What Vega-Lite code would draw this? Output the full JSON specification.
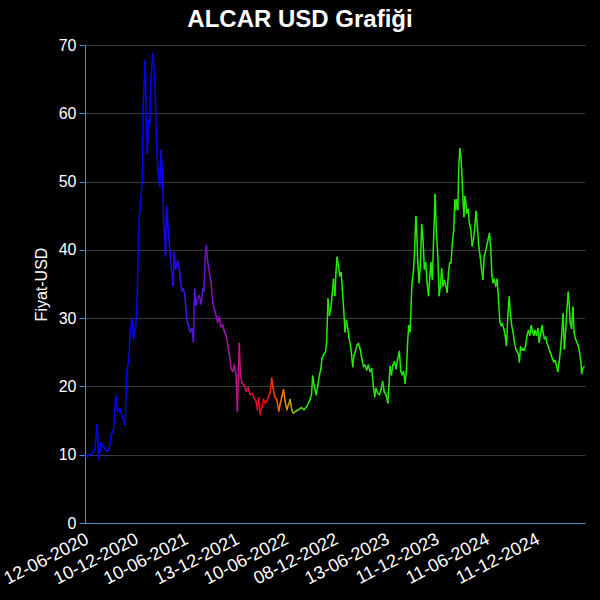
{
  "$schema": "https://vega.github.io/schema/vega-lite/v6.json",
  "description": "ALCAR USD fiyat grafiği",
  "width": 500,
  "height": 478,
  "autosize": {"type": "none"},
  "padding": {"left": 85, "top": 45, "right": 15, "bottom": 77},
  "background": "#000000",
  "title": {
    "text": "ALCAR USD Grafiği",
    "color": "#ffffff",
    "font": "Liberation Sans",
    "fontSize": 24,
    "fontWeight": "bold",
    "anchor": "middle",
    "dx": -35,
    "offset": 5
  },
  "data": {
    "values": [
      {"tarih": "2020-06-12", "fiyat": 9.75},
      {"tarih": "2020-07-06", "fiyat": 10.1},
      {"tarih": "2020-07-18", "fiyat": 10.7},
      {"tarih": "2020-07-26", "fiyat": 14.4},
      {"tarih": "2020-08-02", "fiyat": 9.4},
      {"tarih": "2020-08-09", "fiyat": 11.7},
      {"tarih": "2020-08-18", "fiyat": 11.2},
      {"tarih": "2020-08-30", "fiyat": 10.5},
      {"tarih": "2020-09-07", "fiyat": 10.7},
      {"tarih": "2020-09-17", "fiyat": 13.1},
      {"tarih": "2020-09-24", "fiyat": 13.6},
      {"tarih": "2020-10-02", "fiyat": 18.7},
      {"tarih": "2020-10-09", "fiyat": 16.3},
      {"tarih": "2020-10-16", "fiyat": 16.8},
      {"tarih": "2020-10-26", "fiyat": 15.6},
      {"tarih": "2020-11-05", "fiyat": 14.4},
      {"tarih": "2020-11-11", "fiyat": 22.1},
      {"tarih": "2020-11-19", "fiyat": 24.0},
      {"tarih": "2020-11-24", "fiyat": 28.4},
      {"tarih": "2020-12-01", "fiyat": 29.9},
      {"tarih": "2020-12-06", "fiyat": 27.0},
      {"tarih": "2020-12-14", "fiyat": 28.9},
      {"tarih": "2020-12-18", "fiyat": 31.8},
      {"tarih": "2020-12-23", "fiyat": 40.5},
      {"tarih": "2020-12-27", "fiyat": 44.9},
      {"tarih": "2021-01-02", "fiyat": 47.8},
      {"tarih": "2021-01-07", "fiyat": 50.2},
      {"tarih": "2021-01-10", "fiyat": 60.9},
      {"tarih": "2021-01-17", "fiyat": 67.7},
      {"tarih": "2021-01-21", "fiyat": 58.5},
      {"tarih": "2021-01-25", "fiyat": 54.1},
      {"tarih": "2021-01-29", "fiyat": 59.0},
      {"tarih": "2021-02-03", "fiyat": 58.5},
      {"tarih": "2021-02-07", "fiyat": 64.8},
      {"tarih": "2021-02-13", "fiyat": 68.7},
      {"tarih": "2021-02-18", "fiyat": 66.7},
      {"tarih": "2021-02-23", "fiyat": 63.3},
      {"tarih": "2021-02-28", "fiyat": 54.6},
      {"tarih": "2021-03-05", "fiyat": 51.7},
      {"tarih": "2021-03-11", "fiyat": 49.3},
      {"tarih": "2021-03-16", "fiyat": 54.6},
      {"tarih": "2021-03-21", "fiyat": 51.2},
      {"tarih": "2021-03-26", "fiyat": 43.9},
      {"tarih": "2021-04-01", "fiyat": 39.1},
      {"tarih": "2021-04-05", "fiyat": 46.3},
      {"tarih": "2021-04-12", "fiyat": 42.5},
      {"tarih": "2021-04-18", "fiyat": 39.6},
      {"tarih": "2021-04-24", "fiyat": 36.7},
      {"tarih": "2021-04-29", "fiyat": 34.7},
      {"tarih": "2021-05-03", "fiyat": 39.6},
      {"tarih": "2021-05-08", "fiyat": 37.2},
      {"tarih": "2021-05-16", "fiyat": 38.4},
      {"tarih": "2021-05-23", "fiyat": 36.7},
      {"tarih": "2021-05-30", "fiyat": 34.0},
      {"tarih": "2021-06-05", "fiyat": 34.3},
      {"tarih": "2021-06-11", "fiyat": 33.3},
      {"tarih": "2021-06-17", "fiyat": 29.9},
      {"tarih": "2021-06-23", "fiyat": 29.0},
      {"tarih": "2021-06-29", "fiyat": 28.0},
      {"tarih": "2021-07-06", "fiyat": 28.5},
      {"tarih": "2021-07-12", "fiyat": 26.5},
      {"tarih": "2021-07-16", "fiyat": 34.3},
      {"tarih": "2021-07-21", "fiyat": 31.9},
      {"tarih": "2021-07-26", "fiyat": 32.8},
      {"tarih": "2021-08-02", "fiyat": 33.3},
      {"tarih": "2021-08-09", "fiyat": 32.1},
      {"tarih": "2021-08-15", "fiyat": 34.3},
      {"tarih": "2021-08-19", "fiyat": 34.0},
      {"tarih": "2021-08-24", "fiyat": 39.1},
      {"tarih": "2021-08-28", "fiyat": 40.6},
      {"tarih": "2021-09-02", "fiyat": 38.2},
      {"tarih": "2021-09-08", "fiyat": 36.7},
      {"tarih": "2021-09-14", "fiyat": 35.3},
      {"tarih": "2021-09-20", "fiyat": 32.3},
      {"tarih": "2021-09-26", "fiyat": 31.4},
      {"tarih": "2021-10-02", "fiyat": 30.4},
      {"tarih": "2021-10-08", "fiyat": 29.4},
      {"tarih": "2021-10-14", "fiyat": 30.2},
      {"tarih": "2021-10-20", "fiyat": 28.7},
      {"tarih": "2021-10-27", "fiyat": 29.0},
      {"tarih": "2021-11-02", "fiyat": 28.0},
      {"tarih": "2021-11-08", "fiyat": 27.5},
      {"tarih": "2021-11-14", "fiyat": 26.1},
      {"tarih": "2021-11-20", "fiyat": 24.6},
      {"tarih": "2021-11-26", "fiyat": 22.7},
      {"tarih": "2021-12-02", "fiyat": 22.2},
      {"tarih": "2021-12-08", "fiyat": 23.1},
      {"tarih": "2021-12-14", "fiyat": 21.7},
      {"tarih": "2021-12-19", "fiyat": 16.4},
      {"tarih": "2021-12-23", "fiyat": 22.7},
      {"tarih": "2021-12-26", "fiyat": 26.3},
      {"tarih": "2021-12-30", "fiyat": 21.7},
      {"tarih": "2022-01-05", "fiyat": 20.5},
      {"tarih": "2022-01-12", "fiyat": 20.2},
      {"tarih": "2022-01-20", "fiyat": 19.3},
      {"tarih": "2022-01-27", "fiyat": 19.8},
      {"tarih": "2022-02-03", "fiyat": 18.8},
      {"tarih": "2022-02-10", "fiyat": 19.0},
      {"tarih": "2022-02-18", "fiyat": 18.3},
      {"tarih": "2022-02-25", "fiyat": 17.8},
      {"tarih": "2022-03-02", "fiyat": 16.6},
      {"tarih": "2022-03-07", "fiyat": 18.3},
      {"tarih": "2022-03-12", "fiyat": 15.9},
      {"tarih": "2022-03-18", "fiyat": 16.9},
      {"tarih": "2022-03-24", "fiyat": 18.1},
      {"tarih": "2022-03-30", "fiyat": 17.6},
      {"tarih": "2022-04-05", "fiyat": 17.8},
      {"tarih": "2022-04-11", "fiyat": 18.5},
      {"tarih": "2022-04-17", "fiyat": 19.0},
      {"tarih": "2022-04-23", "fiyat": 21.2},
      {"tarih": "2022-04-28", "fiyat": 19.8},
      {"tarih": "2022-05-04", "fiyat": 18.5},
      {"tarih": "2022-05-11", "fiyat": 18.1},
      {"tarih": "2022-05-19", "fiyat": 16.4},
      {"tarih": "2022-05-23", "fiyat": 17.3},
      {"tarih": "2022-05-29", "fiyat": 18.3},
      {"tarih": "2022-06-05", "fiyat": 19.5},
      {"tarih": "2022-06-11", "fiyat": 17.8},
      {"tarih": "2022-06-17", "fiyat": 16.6},
      {"tarih": "2022-06-23", "fiyat": 17.3},
      {"tarih": "2022-06-29", "fiyat": 18.1},
      {"tarih": "2022-07-05", "fiyat": 16.6},
      {"tarih": "2022-07-11", "fiyat": 16.1},
      {"tarih": "2022-07-21", "fiyat": 16.4},
      {"tarih": "2022-07-30", "fiyat": 16.6},
      {"tarih": "2022-08-09", "fiyat": 16.9},
      {"tarih": "2022-08-19", "fiyat": 16.6},
      {"tarih": "2022-08-29", "fiyat": 17.1},
      {"tarih": "2022-09-07", "fiyat": 17.8},
      {"tarih": "2022-09-15", "fiyat": 18.8},
      {"tarih": "2022-09-19", "fiyat": 21.5},
      {"tarih": "2022-09-26", "fiyat": 19.8},
      {"tarih": "2022-10-02", "fiyat": 18.8},
      {"tarih": "2022-10-08", "fiyat": 20.2},
      {"tarih": "2022-10-14", "fiyat": 21.7},
      {"tarih": "2022-10-19", "fiyat": 22.6},
      {"tarih": "2022-10-23", "fiyat": 24.1},
      {"tarih": "2022-10-28", "fiyat": 24.6},
      {"tarih": "2022-11-05", "fiyat": 25.1},
      {"tarih": "2022-11-09", "fiyat": 26.5},
      {"tarih": "2022-11-14", "fiyat": 32.8},
      {"tarih": "2022-11-19", "fiyat": 30.4},
      {"tarih": "2022-11-24", "fiyat": 31.4},
      {"tarih": "2022-11-29", "fiyat": 33.3},
      {"tarih": "2022-12-04", "fiyat": 35.7},
      {"tarih": "2022-12-09", "fiyat": 33.3},
      {"tarih": "2022-12-13", "fiyat": 36.7},
      {"tarih": "2022-12-17", "fiyat": 38.9},
      {"tarih": "2022-12-22", "fiyat": 37.7},
      {"tarih": "2022-12-27", "fiyat": 36.2},
      {"tarih": "2023-01-01", "fiyat": 36.7},
      {"tarih": "2023-01-05", "fiyat": 34.3},
      {"tarih": "2023-01-10", "fiyat": 31.4},
      {"tarih": "2023-01-15", "fiyat": 28.0},
      {"tarih": "2023-01-20", "fiyat": 29.7},
      {"tarih": "2023-01-25", "fiyat": 28.5},
      {"tarih": "2023-01-30", "fiyat": 27.0},
      {"tarih": "2023-02-04", "fiyat": 26.0},
      {"tarih": "2023-02-08", "fiyat": 24.6},
      {"tarih": "2023-02-12", "fiyat": 22.9},
      {"tarih": "2023-02-17", "fiyat": 24.6},
      {"tarih": "2023-02-22", "fiyat": 25.1},
      {"tarih": "2023-02-27", "fiyat": 26.0},
      {"tarih": "2023-03-05", "fiyat": 26.3},
      {"tarih": "2023-03-11", "fiyat": 25.5},
      {"tarih": "2023-03-17", "fiyat": 24.1},
      {"tarih": "2023-03-23", "fiyat": 22.9},
      {"tarih": "2023-03-29", "fiyat": 23.1},
      {"tarih": "2023-04-04", "fiyat": 22.4},
      {"tarih": "2023-04-10", "fiyat": 23.1},
      {"tarih": "2023-04-16", "fiyat": 22.2},
      {"tarih": "2023-04-22", "fiyat": 22.6},
      {"tarih": "2023-04-28", "fiyat": 20.2},
      {"tarih": "2023-05-03", "fiyat": 18.5},
      {"tarih": "2023-05-08", "fiyat": 19.7},
      {"tarih": "2023-05-14", "fiyat": 19.0},
      {"tarih": "2023-05-20", "fiyat": 18.8},
      {"tarih": "2023-05-26", "fiyat": 19.5},
      {"tarih": "2023-06-01", "fiyat": 20.7},
      {"tarih": "2023-06-07", "fiyat": 19.2},
      {"tarih": "2023-06-13", "fiyat": 18.8},
      {"tarih": "2023-06-20", "fiyat": 17.6},
      {"tarih": "2023-06-24", "fiyat": 20.2},
      {"tarih": "2023-06-28", "fiyat": 22.9},
      {"tarih": "2023-07-03", "fiyat": 21.7},
      {"tarih": "2023-07-08", "fiyat": 23.1},
      {"tarih": "2023-07-14", "fiyat": 23.6},
      {"tarih": "2023-07-20", "fiyat": 22.6},
      {"tarih": "2023-07-26", "fiyat": 24.1},
      {"tarih": "2023-08-01", "fiyat": 25.1},
      {"tarih": "2023-08-06", "fiyat": 22.2},
      {"tarih": "2023-08-11", "fiyat": 21.7},
      {"tarih": "2023-08-16", "fiyat": 22.2},
      {"tarih": "2023-08-22", "fiyat": 20.5},
      {"tarih": "2023-08-27", "fiyat": 22.6},
      {"tarih": "2023-08-31", "fiyat": 26.5},
      {"tarih": "2023-09-04", "fiyat": 28.9},
      {"tarih": "2023-09-09", "fiyat": 28.0},
      {"tarih": "2023-09-13", "fiyat": 32.3},
      {"tarih": "2023-09-16", "fiyat": 35.2},
      {"tarih": "2023-09-21", "fiyat": 36.7},
      {"tarih": "2023-09-25", "fiyat": 39.6},
      {"tarih": "2023-09-30", "fiyat": 44.9},
      {"tarih": "2023-10-03", "fiyat": 43.0},
      {"tarih": "2023-10-07", "fiyat": 38.1},
      {"tarih": "2023-10-12", "fiyat": 35.2},
      {"tarih": "2023-10-17", "fiyat": 38.1},
      {"tarih": "2023-10-21", "fiyat": 43.7},
      {"tarih": "2023-10-26", "fiyat": 41.5},
      {"tarih": "2023-10-31", "fiyat": 37.2},
      {"tarih": "2023-11-05", "fiyat": 38.1},
      {"tarih": "2023-11-10", "fiyat": 35.2},
      {"tarih": "2023-11-15", "fiyat": 33.3},
      {"tarih": "2023-11-20", "fiyat": 36.2},
      {"tarih": "2023-11-24", "fiyat": 38.1},
      {"tarih": "2023-11-29", "fiyat": 35.7},
      {"tarih": "2023-12-04", "fiyat": 42.0},
      {"tarih": "2023-12-09", "fiyat": 48.1},
      {"tarih": "2023-12-14", "fiyat": 42.5},
      {"tarih": "2023-12-19", "fiyat": 39.1},
      {"tarih": "2023-12-24", "fiyat": 33.3},
      {"tarih": "2023-12-28", "fiyat": 34.7},
      {"tarih": "2024-01-02", "fiyat": 37.2},
      {"tarih": "2024-01-07", "fiyat": 34.7},
      {"tarih": "2024-01-12", "fiyat": 35.5},
      {"tarih": "2024-01-17", "fiyat": 34.7},
      {"tarih": "2024-01-22", "fiyat": 33.8},
      {"tarih": "2024-01-27", "fiyat": 36.7},
      {"tarih": "2024-01-31", "fiyat": 38.1},
      {"tarih": "2024-02-05", "fiyat": 38.1},
      {"tarih": "2024-02-10", "fiyat": 41.0},
      {"tarih": "2024-02-15", "fiyat": 43.0},
      {"tarih": "2024-02-19", "fiyat": 47.3},
      {"tarih": "2024-02-22", "fiyat": 45.9},
      {"tarih": "2024-02-26", "fiyat": 47.3},
      {"tarih": "2024-03-01", "fiyat": 45.9},
      {"tarih": "2024-03-04", "fiyat": 51.7},
      {"tarih": "2024-03-08", "fiyat": 54.8},
      {"tarih": "2024-03-12", "fiyat": 53.6},
      {"tarih": "2024-03-15", "fiyat": 51.7},
      {"tarih": "2024-03-19", "fiyat": 47.8},
      {"tarih": "2024-03-23", "fiyat": 44.9},
      {"tarih": "2024-03-26", "fiyat": 47.8},
      {"tarih": "2024-03-30", "fiyat": 46.9},
      {"tarih": "2024-04-02", "fiyat": 45.4},
      {"tarih": "2024-04-07", "fiyat": 45.9},
      {"tarih": "2024-04-12", "fiyat": 43.9},
      {"tarih": "2024-04-17", "fiyat": 43.0},
      {"tarih": "2024-04-22", "fiyat": 40.6},
      {"tarih": "2024-04-27", "fiyat": 41.6},
      {"tarih": "2024-05-02", "fiyat": 43.5},
      {"tarih": "2024-05-06", "fiyat": 45.6},
      {"tarih": "2024-05-11", "fiyat": 43.5},
      {"tarih": "2024-05-16", "fiyat": 40.6},
      {"tarih": "2024-05-21", "fiyat": 39.1},
      {"tarih": "2024-05-26", "fiyat": 37.2},
      {"tarih": "2024-05-31", "fiyat": 35.7},
      {"tarih": "2024-06-05", "fiyat": 39.1},
      {"tarih": "2024-06-09", "fiyat": 39.6},
      {"tarih": "2024-06-14", "fiyat": 40.6},
      {"tarih": "2024-06-19", "fiyat": 41.5},
      {"tarih": "2024-06-24", "fiyat": 42.4},
      {"tarih": "2024-06-29", "fiyat": 40.1},
      {"tarih": "2024-07-03", "fiyat": 36.2},
      {"tarih": "2024-07-07", "fiyat": 35.2},
      {"tarih": "2024-07-12", "fiyat": 35.7},
      {"tarih": "2024-07-17", "fiyat": 34.7},
      {"tarih": "2024-07-22", "fiyat": 35.7},
      {"tarih": "2024-07-27", "fiyat": 32.8},
      {"tarih": "2024-08-01", "fiyat": 29.4},
      {"tarih": "2024-08-06", "fiyat": 28.9},
      {"tarih": "2024-08-10", "fiyat": 29.2},
      {"tarih": "2024-08-15", "fiyat": 28.5},
      {"tarih": "2024-08-20", "fiyat": 27.5},
      {"tarih": "2024-08-25", "fiyat": 26.0},
      {"tarih": "2024-08-30", "fiyat": 30.4},
      {"tarih": "2024-09-04", "fiyat": 33.1},
      {"tarih": "2024-09-09", "fiyat": 30.4},
      {"tarih": "2024-09-13", "fiyat": 28.9},
      {"tarih": "2024-09-18", "fiyat": 28.0},
      {"tarih": "2024-09-23", "fiyat": 26.5},
      {"tarih": "2024-09-28", "fiyat": 25.5},
      {"tarih": "2024-10-03", "fiyat": 25.1},
      {"tarih": "2024-10-08", "fiyat": 24.6},
      {"tarih": "2024-10-11", "fiyat": 23.6},
      {"tarih": "2024-10-15", "fiyat": 25.8},
      {"tarih": "2024-10-20", "fiyat": 25.3},
      {"tarih": "2024-10-25", "fiyat": 25.5},
      {"tarih": "2024-10-29", "fiyat": 25.3},
      {"tarih": "2024-11-03", "fiyat": 26.0},
      {"tarih": "2024-11-08", "fiyat": 27.5},
      {"tarih": "2024-11-13", "fiyat": 28.2},
      {"tarih": "2024-11-18", "fiyat": 27.5},
      {"tarih": "2024-11-23", "fiyat": 28.9},
      {"tarih": "2024-11-28", "fiyat": 28.0},
      {"tarih": "2024-12-02", "fiyat": 27.5},
      {"tarih": "2024-12-07", "fiyat": 28.2},
      {"tarih": "2024-12-12", "fiyat": 27.5},
      {"tarih": "2024-12-17", "fiyat": 28.5},
      {"tarih": "2024-12-22", "fiyat": 26.5},
      {"tarih": "2024-12-27", "fiyat": 27.5},
      {"tarih": "2025-01-01", "fiyat": 28.9},
      {"tarih": "2025-01-05", "fiyat": 28.0},
      {"tarih": "2025-01-10", "fiyat": 27.0},
      {"tarih": "2025-01-15", "fiyat": 27.2},
      {"tarih": "2025-01-20", "fiyat": 26.3},
      {"tarih": "2025-01-25", "fiyat": 25.8},
      {"tarih": "2025-01-30", "fiyat": 25.1},
      {"tarih": "2025-02-04", "fiyat": 24.6},
      {"tarih": "2025-02-08", "fiyat": 24.1},
      {"tarih": "2025-02-13", "fiyat": 23.6},
      {"tarih": "2025-02-18", "fiyat": 23.8},
      {"tarih": "2025-02-23", "fiyat": 23.1},
      {"tarih": "2025-02-28", "fiyat": 22.2},
      {"tarih": "2025-03-05", "fiyat": 23.6},
      {"tarih": "2025-03-10", "fiyat": 25.5},
      {"tarih": "2025-03-14", "fiyat": 27.5},
      {"tarih": "2025-03-19", "fiyat": 30.6},
      {"tarih": "2025-03-24", "fiyat": 25.5},
      {"tarih": "2025-03-29", "fiyat": 28.5},
      {"tarih": "2025-04-03", "fiyat": 31.8},
      {"tarih": "2025-04-07", "fiyat": 33.8},
      {"tarih": "2025-04-10", "fiyat": 32.3},
      {"tarih": "2025-04-14", "fiyat": 29.4},
      {"tarih": "2025-04-19", "fiyat": 28.5},
      {"tarih": "2025-04-24", "fiyat": 31.6},
      {"tarih": "2025-04-28", "fiyat": 28.0},
      {"tarih": "2025-05-03", "fiyat": 27.0},
      {"tarih": "2025-05-08", "fiyat": 26.5},
      {"tarih": "2025-05-13", "fiyat": 26.0},
      {"tarih": "2025-05-18", "fiyat": 25.1},
      {"tarih": "2025-05-23", "fiyat": 23.6},
      {"tarih": "2025-05-26", "fiyat": 21.9},
      {"tarih": "2025-05-29", "fiyat": 22.6},
      {"tarih": "2025-06-04", "fiyat": 22.9}
    ],
    "format": {"parse": {"tarih": "date", "fiyat": "number"}}
  },
  "transform": [
    {
      "window": [
        {"op": "lag", "field": "tarih", "as": "onceki_tarih"},
        {"op": "lag", "field": "fiyat", "as": "onceki_fiyat"}
      ],
      "sort": [{"field": "tarih"}]
    },
    {"filter": "datum.onceki_fiyat != null"}
  ],
  "mark": {"type": "rule", "strokeWidth": 1.5, "strokeCap": "round"},
  "encoding": {
    "x": {
      "field": "tarih",
      "type": "temporal",
      "scale": {
        "type": "utc",
        "domain": [1591920000000, 1749254400000]
      },
      "axis": {
        "title": null,
        "grid": false,
        "labelExpr": "utcFormat(datum.value, '%d-%m-%Y')",
        "labelAngle": -27,
        "labelAlign": "right",
        "labelBaseline": "top",
        "labelFontSize": 18,
        "labelPadding": 7,
        "labelOffset": -2,
        "labelOverlap": false,
        "labelBound": false,
        "labelFlush": false,
        "ticks": false,
        "values": [
          1591920000000, 1607558400000, 1623283200000, 1639353600000,
          1654819200000, 1670457600000, 1686614400000, 1702252800000,
          1718064000000, 1733875200000
        ]
      }
    },
    "x2": {"field": "onceki_tarih"},
    "y": {
      "field": "fiyat",
      "type": "quantitative",
      "scale": {"domain": [0, 70], "nice": false},
      "axis": {
        "title": "Fiyat-USD",
        "values": [0, 10, 20, 30, 40, 50, 60, 70],
        "labelFontSize": 16,
        "titleFontSize": 16,
        "titleFontWeight": "normal",
        "titlePadding": 9,
        "tickSize": 6,
        "labelPadding": 3,
        "grid": true
      }
    },
    "y2": {"field": "onceki_fiyat"},
    "color": {
      "field": "tarih",
      "type": "quantitative",
      "legend": null,
      "scale": {
        "type": "linear",
        "zero": false,
        "nice": false,
        "interpolate": "rgb",
        "domain": [
          1591920000000, 1614556800000, 1625097600000, 1633046400000,
          1640995200000, 1648771200000, 1654387200000, 1657843200000,
          1661990400000, 1749254400000
        ],
        "range": ["#0000ff", "#0000ff", "#4a12f0", "#8a14c4", "#c41684", "#ff0000", "#ff7a00", "#9cc000", "#22ee00", "#22ee00"]
      }
    }
  },
  "config": {
    "font": "Liberation Sans",
    "view": {"stroke": null},
    "axis": {
      "labelColor": "#ffffff",
      "titleColor": "#ffffff",
      "labelFont": "Liberation Sans",
      "titleFont": "Liberation Sans",
      "domainColor": "#4a8fc4",
      "tickColor": "#4a8fc4",
      "gridColor": "#3a3a3a",
      "gridWidth": 1
    }
  }
}
